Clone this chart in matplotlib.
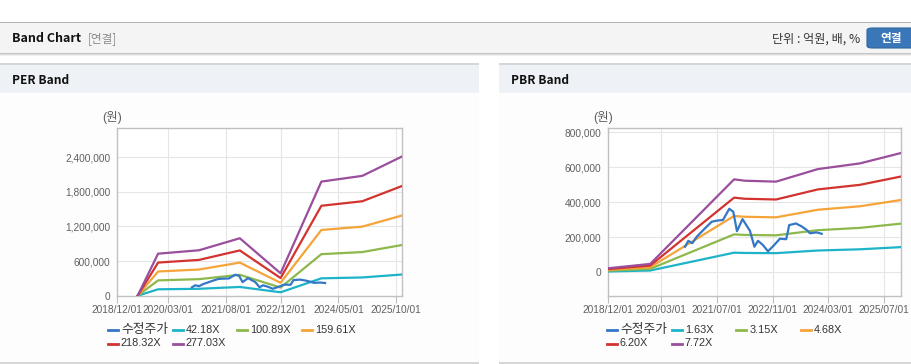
import numpy as np
import pandas as pd
import matplotlib
matplotlib.use("Agg")
import matplotlib.pyplot as plt
from matplotlib.patches import Rectangle, FancyBboxPatch
from matplotlib.lines import Line2D
from matplotlib.ticker import FuncFormatter

plt.rcParams['font.family'] = ['Liberation Sans', 'Noto Sans CJK KR', 'DejaVu Sans']

# ── Data ─────────────────────────────────────────────────────────────────────
# adjusted close (수정주가), shared by both charts
price_dates = ["2020-09-29", "2020-10-28", "2020-12-02", "2021-01-09", "2021-02-22",
               "2021-03-22", "2021-05-20", "2021-07-02", "2021-08-26", "2021-10-20",
               "2021-11-24", "2021-12-26", "2022-02-12", "2022-04-18", "2022-05-27",
               "2022-06-27", "2022-08-09", "2022-09-22", "2022-11-07", "2023-01-04",
               "2023-02-28", "2023-03-26", "2023-05-24", "2023-07-13", "2023-08-25",
               "2023-09-23", "2023-11-20", "2024-01-03"]
price = [146000, 180000, 166000, 203000, 232000, 251000, 289000, 295000, 299000, 363000,
         346000, 235000, 304000, 237000, 146000, 180000, 156000, 120000, 150000, 192000,
         189000, 270000, 279000, 262000, 242000, 223000, 228000, 220000]

# PER band: EPS per point, band = multiple x EPS
per_dates = ["2019-06-01", "2019-12-01", "2020-12-01", "2021-12-01",
             "2022-12-01", "2023-12-01", "2024-12-01", "2025-11-20"]
per_eps = [0, 2628, 2841, 3592, 1400, 7136, 7494, 8700]
per_multiples = [42.18, 100.89, 159.61, 218.32, 277.03]

# PBR band: BPS per point, band = multiple x BPS
pbr_dates = ["2018-12-01", "2019-12-01", "2021-12-01", "2022-03-01",
             "2022-12-01", "2023-12-01", "2024-12-01", "2025-11-20"]
pbr_bps = [3000, 6200, 68800, 67800, 67100, 76400, 80600, 88200]
pbr_multiples = [1.63, 3.15, 4.68, 6.20, 7.72]

per_xticks = ["2018-12-01", "2020-03-01", "2021-08-01", "2022-12-01", "2024-05-01", "2025-10-01"]
pbr_xticks = ["2018-12-01", "2020-03-01", "2021-07-01", "2022-11-01", "2024-03-01", "2025-07-01"]
per_yticks = [0, 600000, 1200000, 1800000, 2400000]
pbr_yticks = [0, 200000, 400000, 600000, 800000]

PRICE_COLOR = "#3377c6"
BAND_COLORS = ["#1db3c9", "#8db84c", "#f5a43a", "#d3332e", "#9a4e9c"]
TICK_COLOR = "#606060"

W, H = 912, 364
fig = plt.figure(figsize=(W / 100, H / 100), dpi=100)


def fx(x):
    return x / W


def fy(y):
    return 1 - y / H


def rect(x0, y0, x1, y1, color):
    fig.patches.append(Rectangle((fx(x0), fy(y1)), fx(x1) - fx(x0), fy(y0) - fy(y1),
                                 transform=fig.transFigure, facecolor=color,
                                 edgecolor="none", zorder=-5))


# ── Page chrome ──────────────────────────────────────────────────────────────
rect(0, 22, W, 23, "#b4b4b4")
rect(0, 23, W, 53, "#f4f4f4")
rect(0, 53, W, 54, "#c4c4c4")
rect(0, 54, W, 55, "#dedede")
rect(0, 55, W, 56, "#efefef")

fig.text(fx(12), fy(38.5), "Band Chart", family=['Noto Sans CJK KR'], fontweight="bold",
         fontsize=9, color="#111111", va="center", ha="left")
fig.text(fx(88), fy(38.5), "[연결]", family=['Noto Sans CJK KR'], fontsize=8.4,
         color="#8a8a8a", va="center", ha="left")
fig.text(fx(860), fy(39), "단위 : 억원, 배, %", family=['Noto Sans CJK KR'], fontsize=8.7,
         color="#333333", va="center", ha="right")
fig.patches.append(FancyBboxPatch((fx(867), fy(48)), fx(60), fy(28) - fy(48),
                                  boxstyle="round,pad=0,rounding_size=0.006",
                                  transform=fig.transFigure, facecolor="#3a77b8",
                                  edgecolor="#2f66a3", lw=0.8, zorder=-4))
fig.text(fx(891), fy(38.5), "연결", family=['Noto Sans CJK KR'], fontweight="bold",
         fontsize=8.4, color="white", va="center", ha="center")

for x0, x1, title in [(0, 479, "PER Band"), (499, W, "PBR Band")]:
    rect(x0, 63, x1, 64.5, "#d6d6d6")
    rect(x0, 64.5, x1, 93, "#eef2f7")
    rect(x0, 93, x1, 362, "#fdfdfd")
    rect(x0, 362, x1, 363.5, "#d6d6d6")
    fig.text(fx(x0 + 12), fy(80), title, family=['Noto Sans CJK KR'], fontweight="bold",
             fontsize=8.6, color="#111111", va="center", ha="left")


# ── Charts ───────────────────────────────────────────────────────────────────
def band_chart(box, base_dates, base_vals, multiples, xticks, yticks, ylim, unit_x, legend_x):
    left, right, top, bottom = box
    ax = fig.add_axes([fx(left), fy(bottom), fx(right) - fx(left), fy(top) - fy(bottom)])
    ax.set_facecolor("white")

    bd = pd.to_datetime(base_dates)
    base = np.array(base_vals, dtype=float)
    ax.plot(pd.to_datetime(price_dates), price, color=PRICE_COLOR, lw=1.6, zorder=4)
    for m, c in zip(multiples, BAND_COLORS):
        ax.plot(bd, base * m, color=c, lw=1.6, zorder=3)

    ax.set_xlim(pd.Timestamp("2018-12-01"), pd.Timestamp("2025-11-24"))
    ax.set_ylim(*ylim)
    ax.set_xticks(pd.to_datetime(xticks))
    ax.set_xticklabels([d.replace("-", "/") for d in xticks])
    ax.set_yticks(yticks)
    ax.yaxis.set_major_formatter(FuncFormatter(lambda v, p: f"{v:,.0f}"))
    ax.grid(True, color="#e6e6e6", lw=0.8)
    ax.set_axisbelow(True)
    for s in ax.spines.values():
        s.set_color("#c0c0c0")
        s.set_linewidth(1.0)
    ax.tick_params(axis="x", length=5, color="#c0c0c0", labelsize=7.3,
                   labelcolor=TICK_COLOR, pad=2)
    ax.tick_params(axis="y", length=0, labelsize=7.3, labelcolor=TICK_COLOR, pad=5)

    fig.text(fx(unit_x), fy(118), "(원)", fontsize=9, color=TICK_COLOR,
             va="center", ha="center")

    # legend, laid out like the original (fixed item width, 4 per row)
    labels = ["수정주가"] + [f"{m:.2f}X" for m in multiples]
    colors = [PRICE_COLOR] + BAND_COLORS
    for i, (lab, col) in enumerate(zip(labels, colors)):
        x = legend_x + (i % 4) * 64.7
        y = 330 + (i // 4) * 13.5
        fig.add_artist(Line2D([fx(x), fx(x + 10)], [fy(y), fy(y)], color=col, lw=2,
                              transform=fig.transFigure))
        fig.text(fx(x + 13), fy(y), lab, fontsize=9.2 if i == 0 else 7.8,
                 color="#333333", va="center", ha="left")
    return ax


band_chart((117.3, 402.3, 128.3, 295.7), per_dates, per_eps, per_multiples,
           per_xticks, per_yticks, (0, 2900000), 112, 108)
band_chart((608.3, 901, 128.3, 295.7), pbr_dates, pbr_bps, pbr_multiples,
           pbr_xticks, pbr_yticks, (-133700, 822800), 603, 607)

fig.savefig("out.png", dpi=100)
